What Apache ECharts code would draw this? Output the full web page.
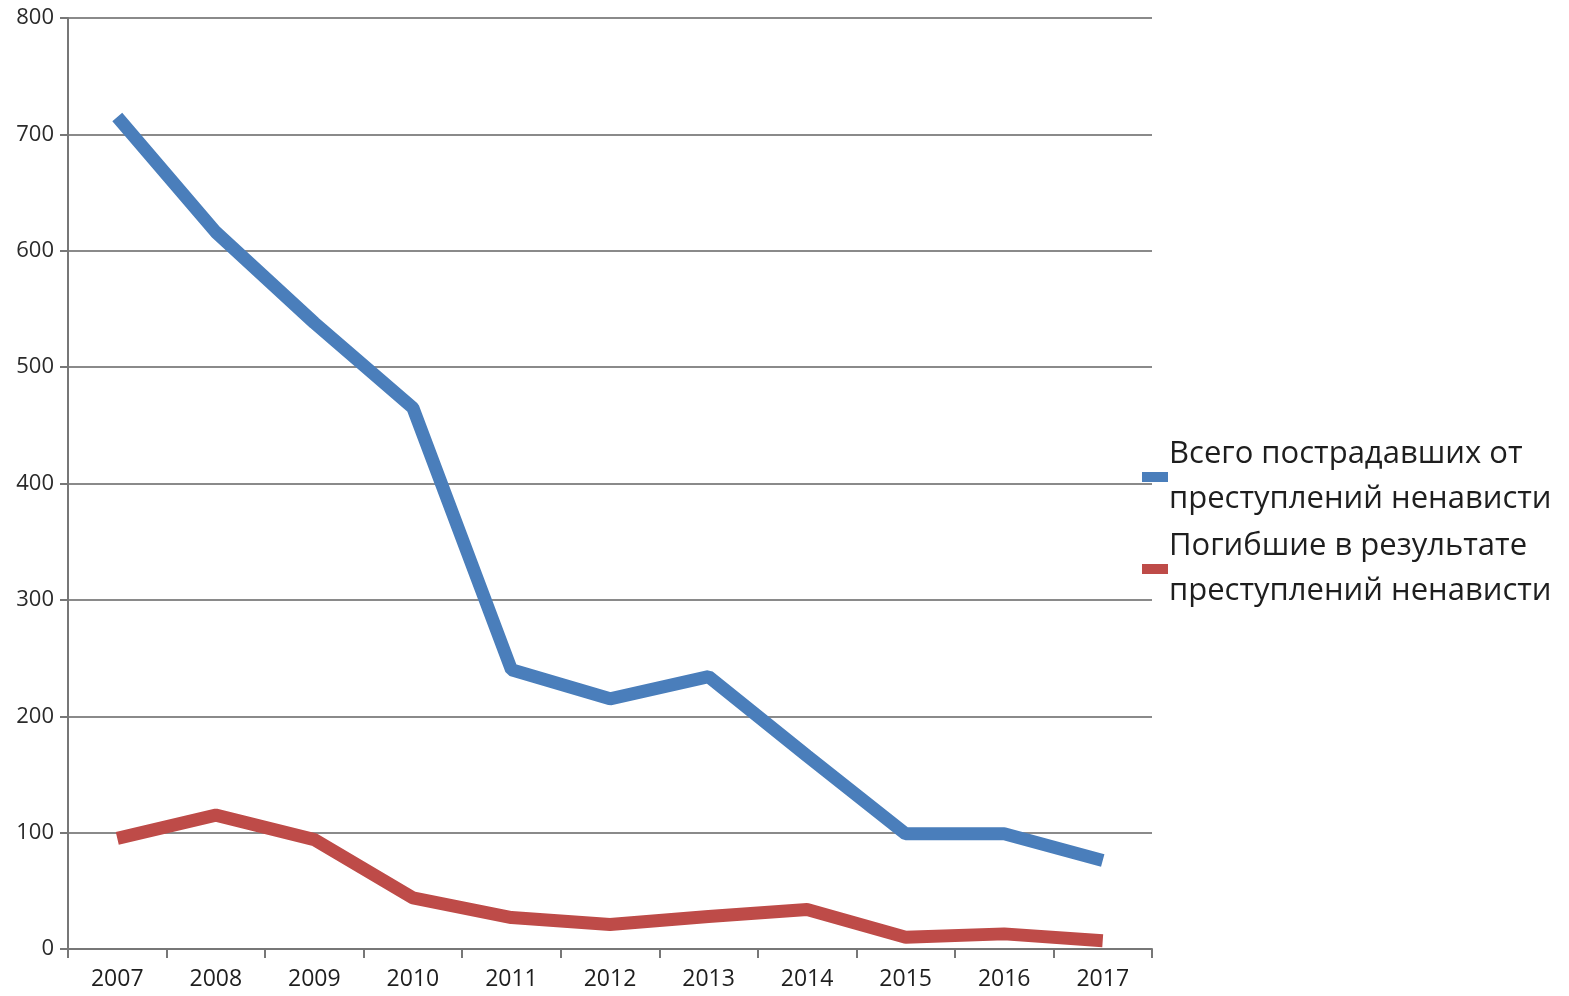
<!DOCTYPE html>
<html>
<head>
<meta charset="utf-8">
<script src="https://cdn.jsdelivr.net/npm/echarts@6/dist/echarts.min.js"></script>
<style>html,body{margin:0;padding:0;background:#fff;}#c{width:1569px;height:996px;}</style>
</head>
<body>
<div id="c"></div>
<script>
const years = ['2007','2008','2009','2010','2011','2012','2013','2014','2015','2016','2017'];
const totalVictims = [715, 616, 538, 465, 240, 215, 234, 166, 99, 99, 76];
const killed = [95, 115, 94, 44, 27, 21, 28, 34, 10, 13, 7];
const seriesNames = ['Всего пострадавших от\nпреступлений ненависти', 'Погибшие в результате\nпреступлений ненависти'];
const yTicks = {min: 0, max: 800, interval: 100};

const chart = echarts.init(document.getElementById('c'));
chart.setOption({
  animation: false,
  backgroundColor: '#fff',
  textStyle: {fontFamily: 'Open Sans'},
  grid: {left: 68, right: 417, top: 18, bottom: 47, containLabel: false},
  legend: {
    orient: 'vertical', left: 1137, top: 427,
    itemWidth: 26, itemHeight: 10, itemGap: 2,
    icon: 'rect',
    textStyle: {fontSize: 31, lineHeight: 45, color: '#1e1e1e', fontFamily: 'Open Sans', padding: [0, 0, 0, -4]},
    data: seriesNames
  },
  xAxis: {
    type: 'category', data: years, boundaryGap: true,
    axisLine: {lineStyle: {color: '#777', width: 2}},
    axisTick: {show: true, length: 9, lineStyle: {color: '#777', width: 2}},
    axisLabel: {fontSize: 23, color: '#1e1e1e', margin: 19}
  },
  yAxis: {
    type: 'value', min: yTicks.min, max: yTicks.max, interval: yTicks.interval,
    axisLine: {show: true, lineStyle: {color: '#777', width: 2}},
    axisTick: {show: true, length: 8, lineStyle: {color: '#777', width: 2}},
    axisLabel: {fontSize: 22, color: '#2a2a2a', margin: 14},
    splitLine: {lineStyle: {color: '#8a8a8a', width: 2}}
  },
  series: [
    {name: seriesNames[0], type: 'line', data: totalVictims, symbol: 'none',
     lineStyle: {width: 13, color: '#4a7ebb'}, itemStyle: {color: '#4a7ebb'}},
    {name: seriesNames[1], type: 'line', data: killed, symbol: 'none',
     lineStyle: {width: 13, color: '#be4b48'}, itemStyle: {color: '#be4b48'}}
  ]
});
</script>
</body>
</html>
